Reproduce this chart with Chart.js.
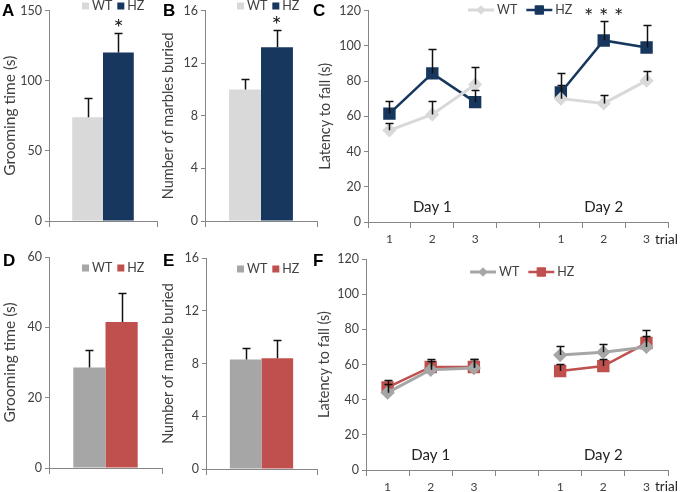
<!DOCTYPE html>
<html>
<head>
<meta charset="utf-8">
<script src="https://cdn.jsdelivr.net/npm/chart.js@4.4.0/dist/chart.umd.min.js"></script>
<style>
  body { margin: 0; background: #fff; width: 685px; height: 492px; position: relative; overflow: hidden; }
  canvas { position: absolute; }
</style>
</head>
<body>
<canvas id="cA" style="left:0;top:0" width="165" height="245"></canvas>
<canvas id="cB" style="left:160px;top:0" width="160" height="245"></canvas>
<canvas id="cC" style="left:310px;top:0" width="375" height="245"></canvas>
<canvas id="cD" style="left:0;top:245px" width="165" height="247"></canvas>
<canvas id="cE" style="left:160px;top:245px" width="160" height="247"></canvas>
<canvas id="cF" style="left:310px;top:245px" width="375" height="247"></canvas>
<script>
// groups and x labels
const groups = ['WT', 'HZ'];
const trialLabels = ['1', '2', '3', '', '1', '2', '3'];

// top row: grooming (A), marbles (B), rotarod (C)
const groomTop = [74, 120];
const groomTopErr = [14, 14];
const marblesTop = [10, 13.2];
const marblesTopErr = [0.8, 1.3];
const rotaTopWT = [52, 61, 78, null, 70, 67.3, 80.2];
const rotaTopWTErr = [4.2, 7.5, 10, null, 7.5, 4.5, 5.6];
const rotaTopHZ = [61.5, 84.3, 68, null, 73.5, 103, 99];
const rotaTopHZErr = [7.3, 13.7, 7, null, 11.2, 11.2, 12.9];

// bottom row: grooming (D), marbles (E), rotarod (F)
const groomBot = [28.6, 41.5];
const groomBotErr = [5, 8.3];
const marblesBot = [8.3, 8.4];
const marblesBotErr = [0.85, 1.4];
const rotaBotWT = [44, 57, 58, null, 65.4, 67, 70];
const rotaBotWTErr = [5, 5, 5, null, 5.1, 4.7, 6];
const rotaBotHZ = [47, 58.6, 58.6, null, 56.3, 59.1, 72.2];
const rotaBotHZErr = [4, 4.5, 4.5, null, 4, 4, 7.4];

const blueSet = { wt: '#d9d9d9', hz: '#17375e' };
const redSet = { wt: '#a6a6a6', hz: '#c0504d' };
const axisColor = '#868686';
const textColor = '#404040';

Chart.defaults.font.family = 'Lato';
Chart.defaults.color = textColor;
Chart.defaults.animation = false;

// upward error bars with caps
const errorBars = {
  id: 'errorBars',
  afterDatasetsDraw(chart) {
    const ctx = chart.ctx, y = chart.scales.y;
    ctx.save();
    ctx.strokeStyle = '#111';
    ctx.lineWidth = 1.5;
    chart.data.datasets.forEach((ds, di) => {
      if (!ds.err) return;
      chart.getDatasetMeta(di).data.forEach((el, i) => {
        const v = ds.data[i], e = ds.err[i];
        if (v == null || e == null) return;
        const x = Math.round(el.x) + 0.5;
        const y0 = y.getPixelForValue(v), y1 = Math.round(y.getPixelForValue(v + e)) + 0.5;
        ctx.beginPath();
        ctx.moveTo(x, y0); ctx.lineTo(x, y1);
        ctx.moveTo(x - 4, y1); ctx.lineTo(x + 4, y1);
        ctx.stroke();
      });
    });
    ctx.restore();
  }
};

// Excel-like key
const keyPlugin = {
  id: 'key',
  afterDraw(chart, args, opts) {
    if (opts.x == null) return;
    const ctx = chart.ctx;
    let x = opts.x;
    ctx.save();
    ctx.font = '12.5px Lato';
    ctx.textBaseline = 'middle';
    chart.data.datasets.forEach(ds => {
      if (opts.line) {
        ctx.strokeStyle = ds.borderColor;
        ctx.fillStyle = ds.backgroundColor;
        ctx.lineWidth = ds.borderWidth;
        ctx.beginPath();
        ctx.moveTo(x, opts.y); ctx.lineTo(x + 26, opts.y);
        ctx.stroke();
        ctx.lineWidth = 1;
        Chart.helpers.drawPoint(ctx, { pointStyle: ds.pointStyle, radius: ds.pointRadius * 0.85, rotation: 0, borderWidth: 1 }, x + 13, opts.y);
        x += 29;
      } else {
        ctx.fillStyle = ds.backgroundColor;
        ctx.fillRect(x, opts.y - 3.5, 7, 7);
        x += 10;
      }
      ctx.fillStyle = textColor;
      ctx.fillText(ds.label, x, opts.y);
      x += ctx.measureText(ds.label).width + opts.gap;
    });
    ctx.restore();
  }
};

// panel letter and free texts
const notes = {
  id: 'notes',
  afterDraw(chart, args, opts) {
    const ctx = chart.ctx, a = chart.chartArea;
    ctx.save();
    if (opts.letter) {
      ctx.font = 'bold 17px "Liberation Sans"';
      ctx.fillStyle = '#000';
      ctx.textBaseline = 'top';
      ctx.fillText(opts.letter, opts.lx, opts.ly);
    }
    (opts.items || []).forEach(it => {
      ctx.font = it.font || '13px Lato';
      ctx.fillStyle = it.color || '#222';
      ctx.textAlign = it.align || 'center';
      ctx.textBaseline = 'middle';
      const x = it.rx != null ? a.right + it.rx : chart.scales.x.getPixelForValue(it.i) + (it.dx || 0);
      const y = it.by != null ? a.bottom + it.by : chart.scales.y.getPixelForValue(it.v) + (it.dy || 0);
      ctx.fillText(it.text, x, y);
    });
    ctx.restore();
  }
};

Chart.register(errorBars, keyPlugin, notes);

function yAxis(max, step, title, width, titleSize, titlePad) {
  return {
    min: 0, max: max,
    ticks: { stepSize: step, color: textColor, font: { size: 12.5 }, padding: 3 },
    border: { color: axisColor, width: 1 },
    grid: { drawOnChartArea: false, tickLength: 4, color: axisColor },
    title: { display: true, text: title, color: textColor, font: { size: titleSize }, padding: { top: titlePad, bottom: 0 } },
    afterFit: s => { s.width = width; }
  };
}

function xAxis(height, showLabels) {
  return {
    offset: true,
    grid: { offset: true, drawOnChartArea: false, tickLength: 6, color: axisColor },
    border: { color: axisColor, width: 1 },
    ticks: { display: showLabels, color: textColor, font: { size: 12 }, padding: 4, maxRotation: 0, autoSkip: false },
    afterFit: s => { s.height = height; }
  };
}

function barChart(id, vals, errs, colors, yMax, yStep, title, layout, key, letter, star) {
  const items = [];
  if (star) items.push({ text: '*', i: 0, dx: layout.starDx, v: vals[1] + errs[1], dy: -5, font: '24px Lato', color: '#222' });
  new Chart(document.getElementById(id), {
    type: 'bar',
    data: {
      labels: [''],
      datasets: [
        { label: groups[0], data: [vals[0]], err: [errs[0]], backgroundColor: colors.wt },
        { label: groups[1], data: [vals[1]], err: [errs[1]], backgroundColor: colors.hz }
      ]
    },
    options: {
      responsive: false,
      layout: { padding: { top: layout.top, right: layout.right, left: 0, bottom: 0 } },
      datasets: { bar: { barPercentage: 1, categoryPercentage: 0.57, borderWidth: 0 } },
      scales: { x: xAxis(layout.xh, false), y: yAxis(yMax, yStep, title, layout.yw, layout.ts, layout.tp) },
      plugins: {
        legend: { display: false }, tooltip: { enabled: false },
        key: { x: key.x, y: key.y, gap: 5 },
        notes: { letter: letter, lx: layout.lx, ly: layout.ly, items: items }
      }
    }
  });
}

function lineChart(id, wt, wtErr, hz, hzErr, colors, layout, key, letter, items) {
  new Chart(document.getElementById(id), {
    type: 'line',
    data: {
      labels: trialLabels,
      datasets: [
        { label: groups[0], data: wt, err: wtErr, borderColor: colors.wt, backgroundColor: colors.wt, borderWidth: 3,
          pointStyle: 'rectRot', pointRadius: 5, pointHoverRadius: 5, tension: 0 },
        { label: groups[1], data: hz, err: hzErr, borderColor: colors.hz, backgroundColor: colors.hz, borderWidth: 2.5,
          pointStyle: 'rect', pointRadius: 7, pointHoverRadius: 7, tension: 0 }
      ]
    },
    options: {
      responsive: false,
      layout: { padding: { top: layout.top, right: layout.right, left: 0, bottom: 0 } },
      scales: { x: xAxis(layout.xh, true), y: yAxis(120, 20, 'Latency to fall (s)', layout.yw, 14.5, layout.tp) },
      plugins: {
        legend: { display: false }, tooltip: { enabled: false },
        key: { x: key.x, y: key.y, gap: 9, line: true },
        notes: { letter: letter, lx: 3, ly: layout.ly, items: items }
      }
    }
  });
}

barChart('cA', groomTop, groomTopErr, blueSet, 150, 50, 'Grooming time (s)',
  { top: 7, right: 8, xh: 24, yw: 49, tp: 1, ts: 15.5, lx: 2, ly: 3, starDx: 15.5 }, { x: 82, y: 6 }, 'A', true);
barChart('cB', marblesTop, marblesTopErr, blueSet, 16, 4, 'Number of marbles buried',
  { top: 7, right: 3, xh: 24, yw: 45, tp: 0, ts: 14.5, lx: 3, ly: 3, starDx: 15.5 }, { x: 77, y: 6 }, 'B', true);
lineChart('cC', rotaTopWT, rotaTopWTErr, rotaTopHZ, rotaTopHZErr, blueSet,
  { top: 8, right: 17, xh: 23, yw: 58, tp: 7, ly: 3 }, { x: 158, y: 10 }, 'C',
  [
    { text: 'Day 1', i: 1, v: 8.5, font: '15px Lato' },
    { text: 'Day 2', i: 5, v: 8.5, font: '15px Lato' },
    { text: 'trial', rx: -13, by: 18, align: 'left', font: '13.5px Lato' },
    { text: '* * *', i: 5, v: rotaTopHZ[5] + rotaTopHZErr[5], dy: -4, font: '22px Lato' }
  ]);
barChart('cD', groomBot, groomBotErr, redSet, 60, 20, 'Grooming time (s)',
  { top: 12, right: 3, xh: 24, yw: 49, tp: 1, ts: 15.5, lx: 3, ly: 8 }, { x: 82, y: 23 }, 'D', false);
barChart('cE', marblesBot, marblesBotErr, redSet, 16, 4, 'Number of marble buried',
  { top: 13, right: 3, xh: 23, yw: 46, tp: 0, ts: 14.5, lx: 3, ly: 8 }, { x: 77, y: 24 }, 'E', false);
lineChart('cF', rotaBotWT, rotaBotWTErr, rotaBotHZ, rotaBotHZErr, redSet,
  { top: 14, right: 17, xh: 22, yw: 56, tp: 6, ly: 8 }, { x: 160, y: 27 }, 'F',
  [
    { text: 'Day 1', i: 1, v: 8.5, font: '15px Lato' },
    { text: 'Day 2', i: 5, v: 8.5, font: '15px Lato' },
    { text: 'trial', rx: -13, by: 17, align: 'left', font: '13.5px Lato' }
  ]);
</script>
</body>
</html>
